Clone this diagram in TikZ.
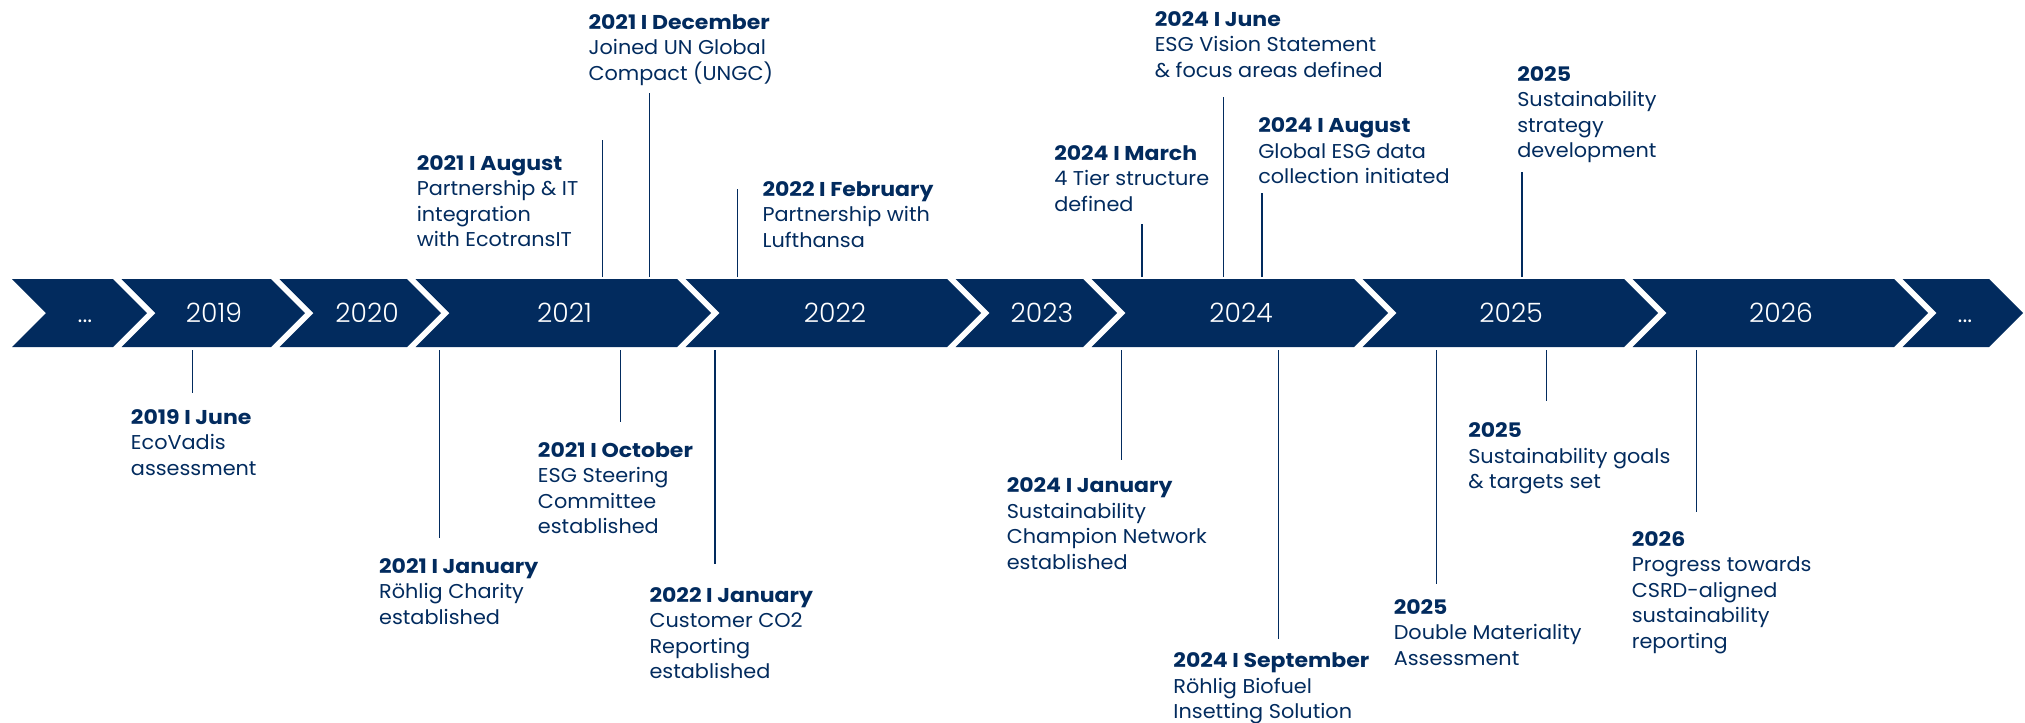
\documentclass[tikz,border=0pt]{standalone}
\usepackage{fontspec}
\setmainfont{Poppins}[FakeStretch=1.04,BoldFeatures={FakeStretch=1.1}]
\newfontfamily\yearfont{Poppins Light}
\definecolor{navy}{HTML}{022B5E}
\newcommand\chevshape[2]{\fill[navy] (#1,279) -- (#2,279) -- ({#2+34},313) -- (#2,347) -- (#1,347) -- ({#1+34},313) -- cycle;}
\begin{document}
\begin{tikzpicture}[x=0.75pt,y=-0.75pt,
  yr/.style={text=white,font=\yearfont\fontsize{20}{23}\selectfont,inner sep=0pt},
  ev/.style={text=navy,font=\fontsize{15}{19.1}\selectfont,align=left,anchor=north west,inner sep=0pt},
  conn/.style={draw=navy,line width=0.9pt}]
\useasboundingbox (0,0) rectangle (2025,722);
% chevrons
\chevshape{12}{113}
\chevshape{121.5}{271}
\chevshape{279.5}{407}
\chevshape{415.5}{677}
\chevshape{685.5}{947}
\chevshape{955.5}{1083}
\chevshape{1091.5}{1354}
\chevshape{1362.5}{1624}
\chevshape{1632.5}{1894}
\chevshape{1902.5}{1989}
% year labels
\node[yr,anchor=base] (y0) at (85,322.5) {...};
\node[yr] (y2019) at (214,313) {2019};
\node[yr] (y2020) at (367,313) {2020};
\node[yr] (y2021) at (564.5,313) {2021};
\node[yr] (y2022) at (835,313) {2022};
\node[yr] (y2023) at (1042,313) {2023};
\node[yr] (y2024) at (1241,313) {2024};
\node[yr] (y2025) at (1511,313) {2025};
\node[yr] (y2026) at (1781,313) {2026};
\node[yr,anchor=base] (y9) at (1965,322.5) {...};
% events above
\node[ev] (dec21) at (588.3,14.3) {\textbf{2021 I December}\\Joined UN Global\\Compact (UNGC)};
\node[ev] (aug21) at (416.5,155.3) {\textbf{2021 I August}\\Partnership \& IT\\integration\\with EcotransIT};
\node[ev] (feb22) at (762.3,181) {\textbf{2022 I February}\\Partnership with\\Lufthansa};
\node[ev] (mar24) at (1054,145.3) {\textbf{2024 I March}\\4 Tier structure\\defined};
\node[ev] (jun24) at (1154.5,11) {\textbf{2024 I June}\\ESG Vision Statement\\\& focus areas defined};
\node[ev] (aug24) at (1258,117.7) {\textbf{2024 I August}\\Global ESG data\\collection initiated};
\node[ev] (str25) at (1517,66) {\textbf{2025}\\Sustainability\\strategy\\development};
% events below
\node[ev] (jun19) at (130.7,409.3) {\textbf{2019 I June}\\EcoVadis\\assessment};
\node[ev] (jan21) at (378.9,558.3) {\textbf{2021 I January}\\Röhlig Charity\\established};
\node[ev] (oct21) at (537.7,442) {\textbf{2021 I October}\\ESG Steering\\Committee\\established};
\node[ev] (jan22) at (649.3,587) {\textbf{2022 I January}\\Customer CO2\\Reporting\\established};
\node[ev] (jan24) at (1006.5,477.7) {\textbf{2024 I January}\\Sustainability\\Champion Network\\established};
\node[ev] (sep24) at (1173.2,652.7) {\textbf{2024 I September}\\Röhlig Biofuel\\Insetting Solution};
\node[ev] (dma25) at (1393.5,599.3) {\textbf{2025}\\Double Materiality\\Assessment};
\node[ev] (gol25) at (1468,422.7) {\textbf{2025}\\Sustainability goals\\\& targets set};
\node[ev] (pro26) at (1631.5,531) {\textbf{2026}\\Progress towards\\CSRD-aligned\\sustainability\\reporting};
% connector coordinates
\coordinate (a1) at (602.7,277); \coordinate (a2) at (602.7,140);
\coordinate (b1) at (649.5,277); \coordinate (b2) at (649.5,92.7);
\coordinate (c1) at (737.7,277); \coordinate (c2) at (737.7,188.7);
\coordinate (d1) at (1142,277); \coordinate (d2) at (1142,224);
\coordinate (e1) at (1223.6,277); \coordinate (e2) at (1223.6,96.7);
\coordinate (f1) at (1262,277); \coordinate (f2) at (1262,193.3);
\coordinate (g1) at (1522,277); \coordinate (g2) at (1522,171.7);
\coordinate (h1) at (192.6,350); \coordinate (h2) at (192.6,393.3);
\coordinate (i1) at (439.4,350); \coordinate (i2) at (439.4,538.3);
\coordinate (j1) at (620.6,350); \coordinate (j2) at (620.6,422.3);
\coordinate (k1) at (715,350); \coordinate (k2) at (715,564.3);
\coordinate (l1) at (1121.6,350); \coordinate (l2) at (1121.6,460);
\coordinate (m1) at (1278.5,350); \coordinate (m2) at (1278.5,639);
\coordinate (n1) at (1436.7,350); \coordinate (n2) at (1436.7,584);
\coordinate (o1) at (1546.5,350); \coordinate (o2) at (1546.5,401);
\coordinate (p1) at (1696.8,350); \coordinate (p2) at (1696.8,511.7);
\foreach \s in {a,b,c,d,e,f,g,h,i,j,k,l,m,n,o,p}{\draw[conn] (\s1) -- (\s2);}
\end{tikzpicture}
\end{document}
